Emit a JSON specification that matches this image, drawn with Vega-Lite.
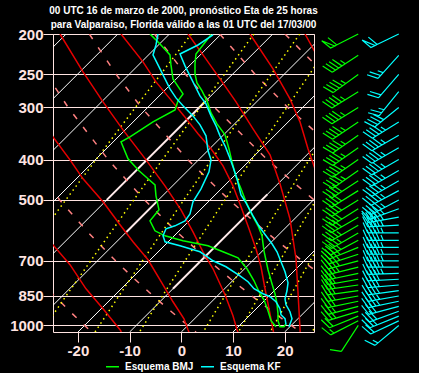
{
"$schema": "https://vega.github.io/schema/vega-lite/v6.json",
"background": "#000000",
"padding": {"left": 9, "top": 5, "right": 0, "bottom": 0},
"bounds": "flush",
"spacing": 24,
"config": {
 "view": {"stroke": "#ffe4e1", "strokeWidth": 1},
 "axis": {"domain": false, "labelColor": "#ffe4e1", "labelFont": "Liberation Sans", "labelFontWeight": "bold", "labelFontSize": 15, "tickColor": "#ffe4e1", "tickSize": 10, "tickWidth": 1}
},
"datasets": {
 "iso": [
  {"t":-80,"x":-80,"p":1037},{"t":-80,"x":-22.29,"p":200},
  {"t":-70,"x":-70,"p":1037},{"t":-70,"x":-12.29,"p":200},
  {"t":-60,"x":-60,"p":1037},{"t":-60,"x":-2.29,"p":200},
  {"t":-50,"x":-50,"p":1037},{"t":-50,"x":7.71,"p":200},
  {"t":-40,"x":-40,"p":1037},{"t":-40,"x":17.71,"p":200},
  {"t":-30,"x":-30,"p":1037},{"t":-30,"x":27.71,"p":200},
  {"t":-20,"x":-20,"p":1037},{"t":-20,"x":37.71,"p":200},
  {"t":-10,"x":-10,"p":1037},{"t":-10,"x":47.71,"p":200},
  {"t":0,"x":0,"p":1037},{"t":0,"x":57.71,"p":200},
  {"t":10,"x":10,"p":1037},{"t":10,"x":67.71,"p":200},
  {"t":20,"x":20,"p":1037},{"t":20,"x":77.71,"p":200}
 ],
 "isoThick": [
  {"t":-40,"x":-14.42,"p":500},{"t":-40,"x":4.68,"p":290},
  {"t":-30,"x":-10.81,"p":600},{"t":-30,"x":-4.42,"p":500},
  {"t":-10,"x":-1.62,"p":816.7},{"t":-10,"x":16.65,"p":485}
 ],
 "dry": [
  {"th":-20,"x":-17.36,"p":1037},{"th":-20,"x":-18.72,"p":1000},{"th":-20,"x":-21.57,"p":925},{"th":-20,"x":-24.52,"p":850},{"th":-20,"x":-27.6,"p":775},
  {"th":0,"x":2.85,"p":1037},{"th":0,"x":1.28,"p":1000},{"th":0,"x":-2.01,"p":925},{"th":0,"x":-5.43,"p":850},{"th":0,"x":-8.99,"p":775},{"th":0,"x":-12.71,"p":700},{"th":0,"x":-17.94,"p":600},{"th":0,"x":-23.54,"p":500},{"th":0,"x":-29.56,"p":400},
  {"th":20,"x":23.06,"p":1037},{"th":20,"x":21.28,"p":1000},{"th":20,"x":17.55,"p":925},{"th":20,"x":13.67,"p":850},{"th":20,"x":9.61,"p":775},{"th":20,"x":5.36,"p":700},{"th":20,"x":-0.65,"p":600},{"th":20,"x":-7.13,"p":500},{"th":20,"x":-14.17,"p":400},{"th":20,"x":-21.9,"p":300},{"th":20,"x":-26.06,"p":250},
  {"th":40,"x":41.28,"p":1000},{"th":40,"x":37.1,"p":925},{"th":40,"x":32.76,"p":850},{"th":40,"x":28.2,"p":775},{"th":40,"x":23.41,"p":700},{"th":40,"x":16.63,"p":600},{"th":40,"x":9.27,"p":500},{"th":40,"x":1.22,"p":400},{"th":40,"x":-7.73,"p":300},{"th":40,"x":-12.61,"p":250},{"th":40,"x":-17.8,"p":200},
  {"th":60,"x":46.8,"p":775},{"th":60,"x":41.47,"p":700},{"th":60,"x":33.91,"p":600},{"th":60,"x":25.67,"p":500},{"th":60,"x":16.6,"p":400},{"th":60,"x":6.44,"p":300},{"th":60,"x":0.85,"p":250},{"th":60,"x":-5.18,"p":200},
  {"th":80,"x":42.08,"p":500},{"th":80,"x":32.0,"p":400},{"th":80,"x":20.62,"p":300},{"th":80,"x":14.3,"p":250},{"th":80,"x":7.44,"p":200},
  {"th":100,"x":47.39,"p":400},{"th":100,"x":34.8,"p":300},{"th":100,"x":27.76,"p":250},{"th":100,"x":20.06,"p":200}
 ],
 "moist": [
  {"id":"G","x":-25.8,"p":620},{"id":"G","x":-24.83,"p":641},{"id":"G","x":-21.54,"p":715},{"id":"G","x":-18.44,"p":817},{"id":"G","x":-15.15,"p":912},{"id":"G","x":-11.86,"p":1024},{"id":"G","x":-11.6,"p":1037},
  {"id":"F","x":-25.8,"p":339.5},{"id":"F","x":-24.83,"p":353},{"id":"F","x":-21.54,"p":400.7},{"id":"F","x":-19.02,"p":445},{"id":"F","x":-15.15,"p":505.3},{"id":"F","x":-11.86,"p":573.7},{"id":"F","x":-9.35,"p":630.1},{"id":"F","x":-6.44,"p":695.9},{"id":"F","x":-3.54,"p":798.9},{"id":"F","x":-1.61,"p":877.5},{"id":"F","x":0.52,"p":963.7},{"id":"F","x":1.3,"p":1024},{"id":"F","x":1.49,"p":1037},
  {"id":"A","x":-23.47,"p":200},{"id":"A","x":-19.02,"p":246.6},{"id":"A","x":-15.15,"p":291},{"id":"A","x":-11.28,"p":339.6},{"id":"A","x":-6.83,"p":400.7},{"id":"A","x":-3.16,"p":462.6},{"id":"A","x":-0.06,"p":528.1},{"id":"A","x":2.26,"p":596.3},{"id":"A","x":4.2,"p":665.9},{"id":"A","x":6.14,"p":731.3},{"id":"A","x":8.46,"p":844.2},{"id":"A","x":10.0,"p":947.9},{"id":"A","x":10.78,"p":1024},{"id":"A","x":10.97,"p":1037},
  {"id":"B","x":-11.67,"p":200},{"id":"B","x":-7.41,"p":233.3},{"id":"B","x":-4.9,"p":260.6},{"id":"B","x":-2.18,"p":286.2},{"id":"B","x":0.52,"p":314.4},{"id":"B","x":3.23,"p":347.1},{"id":"B","x":5.75,"p":377.1},{"id":"B","x":8.07,"p":414.3},{"id":"B","x":10.0,"p":462.6},{"id":"B","x":11.55,"p":519.5},{"id":"B","x":13.1,"p":586.4},{"id":"B","x":14.45,"p":654.9},{"id":"B","x":15.42,"p":723.3},{"id":"B","x":16.2,"p":816.7},{"id":"B","x":16.97,"p":911.9},{"id":"B","x":17.75,"p":1024},{"id":"B","x":17.84,"p":1037},
  {"id":"C","x":1.3,"p":200},{"id":"C","x":4.2,"p":224.5},{"id":"C","x":7.49,"p":256.3},{"id":"C","x":10.59,"p":291},{"id":"C","x":13.88,"p":337.7},{"id":"C","x":17.17,"p":389.9},{"id":"C","x":19.1,"p":457.5},{"id":"C","x":21.03,"p":555},{"id":"C","x":22.2,"p":692},{"id":"C","x":22.58,"p":830.4},{"id":"C","x":22.97,"p":1018.4},{"id":"C","x":23.0,"p":1037},
  {"id":"D","x":13.29,"p":200},{"id":"D","x":17.75,"p":242.5},{"id":"D","x":21.03,"p":286.2},{"id":"D","x":22.97,"p":324.9},{"id":"D","x":24.52,"p":377.1},{"id":"D","x":25.87,"p":421.1},{"id":"D","x":26.45,"p":457.5},
  {"id":"E","x":23.94,"p":200},{"id":"E","x":25.87,"p":220.9},{"id":"E","x":26.84,"p":232}
 ],
 "mixr": [
  {"w":0.1,"x":-27.1,"p":600},{"w":0.1,"x":-22.36,"p":500},{"w":0.1,"x":-16.49,"p":400},{"w":0.1,"x":-8.88,"p":300},{"w":0.1,"x":1.95,"p":200},
  {"w":0.4,"x":-27.13,"p":1037},{"w":0.4,"x":-22.31,"p":850},{"w":0.4,"x":-17.54,"p":700},{"w":0.4,"x":-9.21,"p":500},{"w":0.4,"x":-3.62,"p":400},{"w":0.4,"x":3.66,"p":300},{"w":0.4,"x":14.04,"p":200},
  {"w":1,"x":-16.7,"p":1037},{"w":1,"x":-12.08,"p":850},{"w":1,"x":-7.51,"p":700},{"w":1,"x":0.49,"p":500},{"w":1,"x":5.87,"p":400},{"w":1,"x":12.87,"p":300},{"w":1,"x":22.91,"p":200},
  {"w":2,"x":-8.11,"p":1037},{"w":2,"x":-3.67,"p":850},{"w":2,"x":0.72,"p":700},{"w":2,"x":8.43,"p":500},{"w":2,"x":13.64,"p":400},{"w":2,"x":20.42,"p":300},{"w":2,"x":30.15,"p":200},
  {"w":5,"x":4.24,"p":1037},{"w":5,"x":8.41,"p":850},{"w":5,"x":12.54,"p":700},{"w":5,"x":19.83,"p":500},{"w":5,"x":24.77,"p":400},{"w":5,"x":31.2,"p":300},
  {"w":8,"x":11.06,"p":1037},{"w":8,"x":15.07,"p":850},{"w":8,"x":19.06,"p":700},{"w":8,"x":22.27,"p":600},{"w":8,"x":26.1,"p":500},
  {"w":12,"x":17.22,"p":1037},{"w":12,"x":21.09,"p":850},{"w":12,"x":24.93,"p":700},{"w":12,"x":28.04,"p":600},
  {"w":20,"x":25.33,"p":1037},{"w":20,"x":27.44,"p":925}
 ],
 "prof": [
  {"m":"Esquema BMJ","v":"T","x":5.75,"p":200.9},{"m":"Esquema BMJ","v":"T","x":4.2,"p":212.5},{"m":"Esquema BMJ","v":"T","x":2.84,"p":223.3},{"m":"Esquema BMJ","v":"T","x":2.65,"p":235.9},{"m":"Esquema BMJ","v":"T","x":2.65,"p":249.3},{"m":"Esquema BMJ","v":"T","x":3.03,"p":262.0},{"m":"Esquema BMJ","v":"T","x":4.01,"p":273.8},{"m":"Esquema BMJ","v":"T","x":4.97,"p":289.4},{"m":"Esquema BMJ","v":"T","x":5.75,"p":309.2},{"m":"Esquema BMJ","v":"T","x":6.91,"p":328.5},{"m":"Esquema BMJ","v":"T","x":8.46,"p":349.1},{"m":"Esquema BMJ","v":"T","x":9.23,"p":377.1},{"m":"Esquema BMJ","v":"T","x":9.81,"p":405.2},{"m":"Esquema BMJ","v":"T","x":10.59,"p":440.2},{"m":"Esquema BMJ","v":"T","x":11.55,"p":470.3},{"m":"Esquema BMJ","v":"T","x":12.52,"p":505.3},{"m":"Esquema BMJ","v":"T","x":13.49,"p":537.0},{"m":"Esquema BMJ","v":"T","x":14.84,"p":576.9},{"m":"Esquema BMJ","v":"T","x":15.62,"p":609.6},{"m":"Esquema BMJ","v":"T","x":16.0,"p":662.2},{"m":"Esquema BMJ","v":"T","x":16.78,"p":735.4},{"m":"Esquema BMJ","v":"T","x":17.55,"p":794.4},{"m":"Esquema BMJ","v":"T","x":18.13,"p":839.5},{"m":"Esquema BMJ","v":"T","x":18.52,"p":887.1},{"m":"Esquema BMJ","v":"T","x":18.71,"p":937.4},{"m":"Esquema BMJ","v":"T","x":18.71,"p":974.5},{"m":"Esquema BMJ","v":"T","x":19.1,"p":1007.2},{"m":"Esquema BMJ","v":"T","x":19.87,"p":1007.2},{"m":"Esquema BMJ","v":"T","x":20.26,"p":990.6},
  {"m":"Esquema BMJ","v":"Td","x":-6.06,"p":200},{"m":"Esquema BMJ","v":"Td","x":-4.12,"p":211.3},{"m":"Esquema BMJ","v":"Td","x":-2.19,"p":224.5},{"m":"Esquema BMJ","v":"Td","x":-2.0,"p":237.2},{"m":"Esquema BMJ","v":"Td","x":-1.61,"p":256.3},{"m":"Esquema BMJ","v":"Td","x":-0.06,"p":273.8},{"m":"Esquema BMJ","v":"Td","x":0.33,"p":278.4},{"m":"Esquema BMJ","v":"Td","x":-0.64,"p":289.4},{"m":"Esquema BMJ","v":"Td","x":-1.22,"p":304.1},{"m":"Esquema BMJ","v":"Td","x":-5.48,"p":324.9},{"m":"Esquema BMJ","v":"Td","x":-9.93,"p":353.0},{"m":"Esquema BMJ","v":"Td","x":-11.67,"p":362.8},{"m":"Esquema BMJ","v":"Td","x":-10.31,"p":398.5},{"m":"Esquema BMJ","v":"Td","x":-8.19,"p":425.8},{"m":"Esquema BMJ","v":"Td","x":-6.44,"p":445.0},{"m":"Esquema BMJ","v":"Td","x":-5.09,"p":460.1},{"m":"Esquema BMJ","v":"Td","x":-4.9,"p":488.9},{"m":"Esquema BMJ","v":"Td","x":-4.32,"p":528.1},{"m":"Esquema BMJ","v":"Td","x":-6.06,"p":561.2},{"m":"Esquema BMJ","v":"Td","x":-5.09,"p":593.0},{"m":"Esquema BMJ","v":"Td","x":-3.16,"p":609.6},{"m":"Esquema BMJ","v":"Td","x":0.33,"p":626.7},{"m":"Esquema BMJ","v":"Td","x":5.17,"p":644.2},{"m":"Esquema BMJ","v":"Td","x":8.07,"p":665.9},{"m":"Esquema BMJ","v":"Td","x":10.97,"p":688.2},{"m":"Esquema BMJ","v":"Td","x":12.71,"p":731.3},{"m":"Esquema BMJ","v":"Td","x":14.07,"p":781.4},{"m":"Esquema BMJ","v":"Td","x":15.04,"p":830.4},{"m":"Esquema BMJ","v":"Td","x":16.0,"p":867.8},{"m":"Esquema BMJ","v":"Td","x":16.78,"p":921.9},{"m":"Esquema BMJ","v":"Td","x":17.36,"p":974.5},{"m":"Esquema BMJ","v":"Td","x":18.33,"p":1007.2},
  {"m":"Esquema KF","v":"T","x":6.14,"p":200.9},{"m":"Esquema KF","v":"T","x":3.23,"p":212.5},{"m":"Esquema KF","v":"T","x":-0.25,"p":223.3},{"m":"Esquema KF","v":"T","x":0.72,"p":238.5},{"m":"Esquema KF","v":"T","x":1.68,"p":252.1},{"m":"Esquema KF","v":"T","x":2.65,"p":266.4},{"m":"Esquema KF","v":"T","x":3.62,"p":281.5},{"m":"Esquema KF","v":"T","x":4.78,"p":294.2},{"m":"Esquema KF","v":"T","x":5.75,"p":314.4},{"m":"Esquema KF","v":"T","x":6.72,"p":332.2},{"m":"Esquema KF","v":"T","x":7.49,"p":351.0},{"m":"Esquema KF","v":"T","x":8.46,"p":370.9},{"m":"Esquema KF","v":"T","x":9.23,"p":392.0},{"m":"Esquema KF","v":"T","x":10.0,"p":416.5},{"m":"Esquema KF","v":"T","x":10.78,"p":445.0},{"m":"Esquema KF","v":"T","x":11.55,"p":486.2},{"m":"Esquema KF","v":"T","x":12.52,"p":508.1},{"m":"Esquema KF","v":"T","x":13.88,"p":545.9},{"m":"Esquema KF","v":"T","x":15.23,"p":583.2},{"m":"Esquema KF","v":"T","x":16.39,"p":609.6},{"m":"Esquema KF","v":"T","x":17.55,"p":637.1},{"m":"Esquema KF","v":"T","x":18.52,"p":665.9},{"m":"Esquema KF","v":"T","x":19.29,"p":703.6},{"m":"Esquema KF","v":"T","x":20.07,"p":743.6},{"m":"Esquema KF","v":"T","x":20.65,"p":790.1},{"m":"Esquema KF","v":"T","x":20.45,"p":825.8},{"m":"Esquema KF","v":"T","x":20.07,"p":863.0},{"m":"Esquema KF","v":"T","x":20.26,"p":892.1},{"m":"Esquema KF","v":"T","x":21.03,"p":927.2},{"m":"Esquema KF","v":"T","x":21.42,"p":963.7},{"m":"Esquema KF","v":"T","x":20.84,"p":1007.2},
  {"m":"Esquema KF","v":"Td","x":-4.51,"p":200},{"m":"Esquema KF","v":"Td","x":-4.9,"p":212.5},{"m":"Esquema KF","v":"Td","x":-5.48,"p":224.5},{"m":"Esquema KF","v":"Td","x":-4.12,"p":242.5},{"m":"Esquema KF","v":"Td","x":-3.15,"p":256.3},{"m":"Esquema KF","v":"Td","x":-2.19,"p":270.8},{"m":"Esquema KF","v":"Td","x":-1.03,"p":284.6},{"m":"Esquema KF","v":"Td","x":0.33,"p":297.4},{"m":"Esquema KF","v":"Td","x":2.26,"p":314.4},{"m":"Esquema KF","v":"Td","x":3.62,"p":330.3},{"m":"Esquema KF","v":"Td","x":4.78,"p":351.0},{"m":"Esquema KF","v":"Td","x":5.17,"p":381.3},{"m":"Esquema KF","v":"Td","x":5.75,"p":400.7},{"m":"Esquema KF","v":"Td","x":5.36,"p":428.2},{"m":"Esquema KF","v":"Td","x":3.81,"p":470.3},{"m":"Esquema KF","v":"Td","x":2.26,"p":505.3},{"m":"Esquema KF","v":"Td","x":1.68,"p":539.9},{"m":"Esquema KF","v":"Td","x":0.72,"p":561.2},{"m":"Esquema KF","v":"Td","x":-1.22,"p":576.9},{"m":"Esquema KF","v":"Td","x":-2.96,"p":586.4},{"m":"Esquema KF","v":"Td","x":-3.54,"p":609.6},{"m":"Esquema KF","v":"Td","x":-3.15,"p":630.1},{"m":"Esquema KF","v":"Td","x":-0.25,"p":644.2},{"m":"Esquema KF","v":"Td","x":3.62,"p":665.9},{"m":"Esquema KF","v":"Td","x":6.14,"p":699.8},{"m":"Esquema KF","v":"Td","x":8.65,"p":723.3},{"m":"Esquema KF","v":"Td","x":11.36,"p":760.2},{"m":"Esquema KF","v":"Td","x":12.91,"p":785.8},{"m":"Esquema KF","v":"Td","x":14.07,"p":816.7},{"m":"Esquema KF","v":"Td","x":15.81,"p":839.5},{"m":"Esquema KF","v":"Td","x":17.17,"p":853.6},{"m":"Esquema KF","v":"Td","x":18.33,"p":877.5},{"m":"Esquema KF","v":"Td","x":19.1,"p":911.9},{"m":"Esquema KF","v":"Td","x":19.29,"p":942.6},{"m":"Esquema KF","v":"Td","x":20.07,"p":963.7},{"m":"Esquema KF","v":"Td","x":20.26,"p":996.0}
 ],
 "winds": [
  {"m":"Esquema BMJ","p":200,"d":243,"s":60},{"m":"Esquema BMJ","p":225,"d":237,"s":45},{"m":"Esquema BMJ","p":250,"d":234,"s":45},{"m":"Esquema BMJ","p":275,"d":238,"s":45},{"m":"Esquema BMJ","p":300,"d":238,"s":45},{"m":"Esquema BMJ","p":325,"d":236,"s":45},{"m":"Esquema BMJ","p":350,"d":235,"s":45},{"m":"Esquema BMJ","p":375,"d":235,"s":45},{"m":"Esquema BMJ","p":400,"d":235,"s":45},{"m":"Esquema BMJ","p":425,"d":235,"s":45},{"m":"Esquema BMJ","p":450,"d":237,"s":40},{"m":"Esquema BMJ","p":475,"d":238,"s":40},{"m":"Esquema BMJ","p":500,"d":238,"s":40},{"m":"Esquema BMJ","p":525,"d":238,"s":40},{"m":"Esquema BMJ","p":550,"d":240,"s":40},{"m":"Esquema BMJ","p":575,"d":240,"s":35},{"m":"Esquema BMJ","p":600,"d":240,"s":35},{"m":"Esquema BMJ","p":625,"d":242,"s":35},{"m":"Esquema BMJ","p":650,"d":248,"s":35},{"m":"Esquema BMJ","p":675,"d":252,"s":35},{"m":"Esquema BMJ","p":700,"d":255,"s":35},{"m":"Esquema BMJ","p":725,"d":256,"s":35},{"m":"Esquema BMJ","p":750,"d":258,"s":30},{"m":"Esquema BMJ","p":775,"d":260,"s":30},{"m":"Esquema BMJ","p":800,"d":262,"s":30},{"m":"Esquema BMJ","p":825,"d":262,"s":30},{"m":"Esquema BMJ","p":850,"d":260,"s":30},{"m":"Esquema BMJ","p":875,"d":258,"s":30},{"m":"Esquema BMJ","p":900,"d":255,"s":25},{"m":"Esquema BMJ","p":925,"d":253,"s":25},{"m":"Esquema BMJ","p":950,"d":248,"s":20},{"m":"Esquema BMJ","p":975,"d":243,"s":15},{"m":"Esquema BMJ","p":1000,"d":213,"s":10},
  {"m":"Esquema KF","p":200,"d":244,"s":60},{"m":"Esquema KF","p":225,"d":222,"s":25},{"m":"Esquema KF","p":250,"d":221,"s":20},{"m":"Esquema KF","p":275,"d":219,"s":25},{"m":"Esquema KF","p":300,"d":231,"s":40},{"m":"Esquema KF","p":325,"d":238,"s":45},{"m":"Esquema KF","p":350,"d":240,"s":45},{"m":"Esquema KF","p":375,"d":240,"s":45},{"m":"Esquema KF","p":400,"d":240,"s":45},{"m":"Esquema KF","p":425,"d":240,"s":45},{"m":"Esquema KF","p":450,"d":240,"s":45},{"m":"Esquema KF","p":475,"d":242,"s":45},{"m":"Esquema KF","p":500,"d":242,"s":45},{"m":"Esquema KF","p":525,"d":250,"s":45},{"m":"Esquema KF","p":550,"d":260,"s":45},{"m":"Esquema KF","p":575,"d":267,"s":45},{"m":"Esquema KF","p":600,"d":270,"s":45},{"m":"Esquema KF","p":625,"d":270,"s":45},{"m":"Esquema KF","p":650,"d":270,"s":45},{"m":"Esquema KF","p":675,"d":270,"s":45},{"m":"Esquema KF","p":700,"d":270,"s":45},{"m":"Esquema KF","p":725,"d":270,"s":45},{"m":"Esquema KF","p":750,"d":268,"s":45},{"m":"Esquema KF","p":775,"d":267,"s":40},{"m":"Esquema KF","p":800,"d":265,"s":40},{"m":"Esquema KF","p":825,"d":262,"s":40},{"m":"Esquema KF","p":850,"d":260,"s":35},{"m":"Esquema KF","p":875,"d":258,"s":35},{"m":"Esquema KF","p":900,"d":255,"s":30},{"m":"Esquema KF","p":925,"d":250,"s":30},{"m":"Esquema KF","p":950,"d":248,"s":25},{"m":"Esquema KF","p":975,"d":245,"s":20},{"m":"Esquema KF","p":1000,"d":230,"s":15}
 ]
},
"hconcat": [
 {
  "width": 261, "height": 298,
  "title": {"text": ["00 UTC 16 de marzo de 2000, pronóstico Eta de 25 horas", "para Valparaiso, Florida válido a las 01 UTC del 17/03/00"], "color": "#ffffff", "font": "Liberation Sans", "fontSize": 10, "fontWeight": "bold", "lineHeight": 14, "offset": -3, "anchor": "middle", "frame": "group"},
  "encoding": {
   "x": {"field": "x", "type": "quantitative", "scale": {"domain": [-24.83, 25.68], "nice": false, "zero": false}, "axis": {"title": null, "values": [-20, -10, 0, 10, 20], "grid": false, "labelExpr": "'' + datum.value", "labelPadding": 1}},
   "y": {"field": "p", "type": "quantitative", "scale": {"type": "log", "domain": [200, 1037], "reverse": true, "nice": false}, "axis": {"title": null, "values": [200, 250, 300, 400, 500, 700, 850, 1000], "labelExpr": "'' + datum.value", "grid": true, "gridColor": "#ffe4e1", "gridOpacity": 1, "gridWidth": 1, "labelPadding": 0}}
  },
  "layer": [
   {"data": {"name": "iso"}, "mark": {"type": "line", "clip": true, "color": "#ffffff", "strokeWidth": 1}, "encoding": {"detail": {"field": "t"}}},
   {"data": {"name": "isoThick"}, "mark": {"type": "line", "clip": true, "color": "#ffeaea", "strokeWidth": 2}, "encoding": {"detail": {"field": "t"}}},
   {"data": {"name": "dry"}, "mark": {"type": "line", "clip": true, "color": "#ff8080", "strokeWidth": 1.5, "strokeDash": [6, 10]}, "encoding": {"detail": {"field": "th"}, "order": {"field": "p"}}},
   {"data": {"name": "mixr"}, "mark": {"type": "line", "clip": true, "color": "#ffff00", "strokeWidth": 1.5, "strokeDash": [1.5, 3.5]}, "encoding": {"detail": {"field": "w"}, "order": {"field": "p"}}},
   {"data": {"name": "moist"}, "mark": {"type": "line", "clip": true, "color": "#e60000", "strokeWidth": 1.5}, "encoding": {"detail": {"field": "id"}, "order": {"field": "p"}}},
   {"data": {"name": "prof"}, "mark": {"type": "line", "clip": true, "strokeWidth": 1.5}, "encoding": {
     "color": {"field": "m", "type": "nominal", "scale": {"domain": ["Esquema BMJ", "Esquema KF"], "range": ["#00ff00", "#00ffff"]}, "legend": {"title": null, "orient": "none", "legendX": 52, "legendY": 325, "direction": "horizontal", "symbolType": "stroke", "symbolSize": 169, "symbolStrokeWidth": 1.5, "labelColor": "#ffffff", "labelFont": "Liberation Sans", "labelFontWeight": "bold", "labelFontSize": 10, "labelOffset": 5, "columnPadding": 4, "padding": 0}},
     "detail": {"field": "v"},
     "order": {"value": null}
   }}
  ]
 },
 {
  "width": 81, "height": 298,
  "view": {"stroke": null},
  "data": {"name": "winds"},
  "mark": {"type": "point", "filled": false, "size": 960, "strokeWidth": 1.2, "opacity": 1, "clip": false},
  "encoding": {
   "x": {"field": "m", "type": "nominal", "scale": {"type": "point", "padding": 0.5, "domain": ["Esquema BMJ", "Esquema KF"]}, "axis": null},
   "y": {"field": "p", "type": "quantitative", "scale": {"type": "log", "domain": [200, 1037], "reverse": true, "nice": false}, "axis": null},
   "color": {"field": "m", "type": "nominal", "scale": {"domain": ["Esquema BMJ", "Esquema KF"], "range": ["#00ff00", "#00ffff"]}, "legend": null},
   "angle": {"field": "d", "type": "quantitative", "scale": {"domain": [0, 360], "range": [-270, 90]}, "legend": null},
   "shape": {"field": "s", "type": "nominal", "legend": null, "scale": {"domain": [10, 15, 20, 25, 30, 35, 40, 45, 50, 60], "range": [
     "M0,0L-2,0M-2,0L-2.3,-0.68",
     "M0,0L-2,0M-2,0L-2.3,-0.68M-1.75,0L-1.9,-0.34",
     "M0,0L-2,0M-2,0L-2.3,-0.68M-1.75,0L-2.05,-0.68",
     "M0,0L-2,0M-2,0L-2.3,-0.68M-1.75,0L-2.05,-0.68M-1.5,0L-1.65,-0.34",
     "M0,0L-2,0M-2,0L-2.3,-0.68M-1.75,0L-2.05,-0.68M-1.5,0L-1.8,-0.68",
     "M0,0L-2,0M-2,0L-2.3,-0.68M-1.75,0L-2.05,-0.68M-1.5,0L-1.8,-0.68M-1.25,0L-1.4,-0.34",
     "M0,0L-2,0M-2,0L-2.3,-0.68M-1.75,0L-2.05,-0.68M-1.5,0L-1.8,-0.68M-1.25,0L-1.55,-0.68",
     "M0,0L-2,0M-2,0L-2.3,-0.68M-1.75,0L-2.05,-0.68M-1.5,0L-1.8,-0.68M-1.25,0L-1.55,-0.68M-1,0L-1.15,-0.34",
     "M0,0L-2,0M-2,0L-2.3,-0.68L-1.7,0Z",
     "M0,0L-2,0M-2,0L-2.3,-0.68L-1.7,0ZM-1.55,0L-1.85,-0.68"
   ]}}
  }
 }
],
"resolve": {"scale": {"x": "independent", "y": "independent", "color": "independent"}, "legend": {"color": "independent"}}
}
